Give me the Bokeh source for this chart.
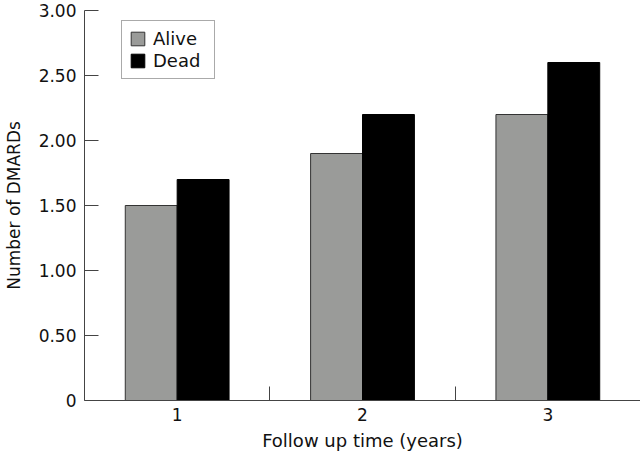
from bokeh.plotting import figure
from bokeh.models import FixedTicker, Legend, LegendItem, ColumnDataSource, Range1d
from bokeh.transform import dodge
from bokeh.embed import file_html
from bokeh.resources import INLINE

years = [1, 2, 3]
alive = [1.5, 1.9, 2.2]
dead = [1.7, 2.2, 2.6]
y_ticks = [0, 0.5, 1.0, 1.5, 2.0, 2.5, 3.0]
y_tick_labels = ["0", "0.50", "1.00", "1.50", "2.00", "2.50", "3.00"]
x_ticks = [1, 2, 3]
x_tick_labels = ["1", "2", "3"]
x_boundaries = [1.5, 2.5, 3.5]

FONT = "DejaVu Sans"
TXT = "#111111"
AX = "#444444"

src = ColumnDataSource(dict(year=years, alive=alive, dead=dead))

p = figure(width=640, height=458, x_range=Range1d(0.5, 3.5), y_range=Range1d(0, 3),
           output_backend="svg", toolbar_location=None,
           min_border_left=80, min_border_right=0, min_border_top=10, min_border_bottom=58)
p.outline_line_color = None
p.xgrid.grid_line_color = None
p.ygrid.grid_line_color = None
p.background_fill_color = "white"
p.border_fill_color = "white"

r_alive = p.vbar(x=dodge("year", -0.14, range=p.x_range), top="alive", width=0.28, bottom=0,
                 source=src, fill_color="#9a9b99", line_color="#333333", line_width=1)
r_dead = p.vbar(x=dodge("year", 0.14, range=p.x_range), top="dead", width=0.28, bottom=0,
                source=src, fill_color="black", line_color="black", line_width=1)

# y axis
ya = p.yaxis[0]
ya.ticker = FixedTicker(ticks=y_ticks, minor_ticks=[])
ya.major_label_overrides = {t: l for t, l in zip(y_ticks, y_tick_labels)}
ya.major_tick_in = 14
ya.major_tick_out = 0
ya.minor_tick_line_color = None
ya.axis_line_color = AX
ya.major_tick_line_color = AX
ya.major_label_standoff = 8
ya.major_label_text_font = FONT
ya.major_label_text_font_size = "17px"
ya.major_label_text_color = TXT
ya.axis_label = "Number of DMARDs"
ya.axis_label_text_font = FONT
ya.axis_label_text_font_size = "17px"
ya.axis_label_text_font_style = "normal"
ya.axis_label_text_color = TXT
ya.axis_label_standoff = 12

# x axis
xa = p.xaxis[0]
xa.ticker = FixedTicker(ticks=x_ticks, minor_ticks=x_boundaries)
xa.major_label_overrides = {t: l for t, l in zip(x_ticks, x_tick_labels)}
xa.major_tick_line_color = None
xa.major_tick_in = 0
xa.major_tick_out = 0
xa.minor_tick_in = 14
xa.minor_tick_out = 0
xa.minor_tick_line_color = AX
xa.axis_line_color = AX
xa.major_label_standoff = 7
xa.major_label_text_font = FONT
xa.major_label_text_font_size = "17px"
xa.major_label_text_color = TXT
xa.axis_label = "Follow up time (years)"
xa.axis_label_text_font = FONT
xa.axis_label_text_font_size = "18px"
xa.axis_label_text_font_style = "normal"
xa.axis_label_text_color = TXT
xa.axis_label_standoff = 6

legend = Legend(items=[LegendItem(label="Alive", renderers=[r_alive]),
                       LegendItem(label="Dead", renderers=[r_dead])],
                location=(37, 321))
legend.border_line_color = "#555555"
legend.border_line_width = 1
legend.background_fill_color = "white"
legend.background_fill_alpha = 1
legend.label_text_font = FONT
legend.label_text_font_size = "18px"
legend.label_text_color = TXT
legend.glyph_width = 17
legend.glyph_height = 17
legend.label_standoff = 7
legend.label_width = 54
legend.spacing = 1
legend.padding = 7
legend.margin = 0
p.add_layout(legend, "center")

open("out.html", "w").write(file_html(p, INLINE))
